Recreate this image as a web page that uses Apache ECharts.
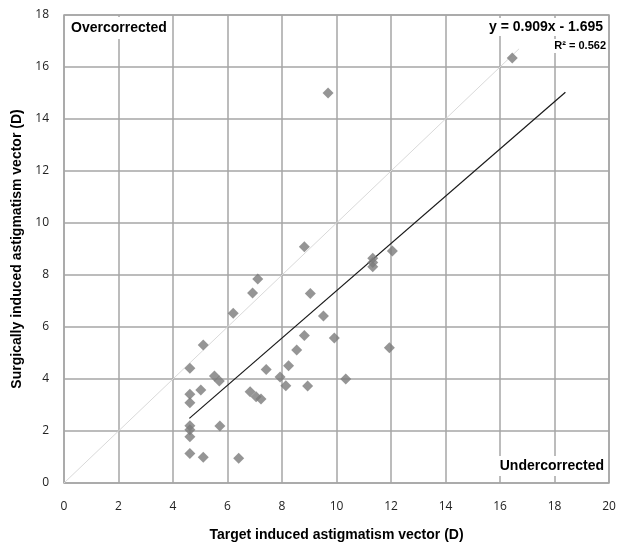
<!DOCTYPE html>
<html>
<head>
<meta charset="utf-8">
<script src="https://cdn.jsdelivr.net/npm/echarts@6/dist/echarts.min.js"></script>
<style>html,body{margin:0;padding:0;background:#fff}#c{width:619px;height:543px}</style>
</head>
<body>
<div id="c"></div>
<script>
// Target induced astigmatism vector (D)
const targetX = [6.21,5.11,4.62,5.52,5.70,5.02,4.62,4.62,6.83,7.05,7.23,7.42,7.93,8.14,8.24,8.54,8.82,9.52,9.92,8.94,10.34,11.94,4.62,4.62,4.62,5.72,4.62,5.11,6.41,8.82,7.11,6.92,9.04,11.33,11.33,11.33,12.05,9.69,16.45];
// Surgically induced astigmatism vector (D)
const surgicalY = [6.53,5.31,4.41,4.12,3.92,3.58,3.41,3.09,3.51,3.32,3.23,4.37,4.08,3.74,4.51,5.12,5.67,6.42,5.58,3.73,4.00,5.20,2.20,2.05,1.78,2.19,1.13,0.99,0.95,9.09,7.85,7.31,7.29,8.64,8.48,8.32,8.92,15.0,16.35];
const slope = 0.909, intercept = -1.695, rSquared = 0.562;
const trendRange = [4.6, 18.4];
const identityRange = [0, 16.7];
const xTicks = [0,2,4,6,8,10,12,14,16,18,20];
const yTicks = [0,2,4,6,8,10,12,14,16,18];

const pts = targetX.map((x,i)=>[x, surgicalY[i]]);
const trend = trendRange.map(x=>[x, slope*x+intercept]);
const ident = identityRange.map(x=>[x,x]);
const font = 'Liberation Sans, Arial, sans-serif';
const tickFont = 'Open Sans, DejaVu Sans, sans-serif';

const chart = echarts.init(document.getElementById('c'));
chart.setOption({
  animation:false,
  backgroundColor:'#fff',
  grid:{left:64,right:10,top:15,bottom:60,show:true,borderColor:'#a6a6a6',borderWidth:1.5,
        containLabel:false,outerBoundsMode:'none'},
  title:[
    {text:'Overcorrected',left:66,top:17,padding:[4,5],backgroundColor:'#fff',
     textStyle:{fontFamily:font,fontSize:14,fontWeight:'bold',color:'#000'}},
    {text:'Undercorrected',right:11,top:456,padding:[3,4],backgroundColor:'#fff',
     textStyle:{fontFamily:font,fontSize:14,fontWeight:'bold',color:'#000'}},
    {text:'y = '+slope.toFixed(3)+'x - '+Math.abs(intercept).toFixed(3),right:14,top:18,padding:[2,2,2,8],backgroundColor:'#fff',
     textStyle:{fontFamily:font,fontSize:14,fontWeight:'bold',color:'#000'}},
    {text:'R² = '+rSquared.toFixed(3),right:11,top:39,padding:[1,2,2,4],backgroundColor:'#fff',
     textStyle:{fontFamily:font,fontSize:11,fontWeight:'bold',color:'#000'}}
  ],
  xAxis:{type:'value',min:xTicks[0],max:xTicks[xTicks.length-1],interval:2,
    name:'Target induced astigmatism vector (D)',nameLocation:'middle',nameGap:45,
    nameTextStyle:{fontFamily:font,fontSize:14,fontWeight:'bold',color:'#000'},
    axisLine:{show:false},axisTick:{show:false},
    axisLabel:{fontFamily:tickFont,fontSize:12,color:'#222',margin:18},
    splitLine:{lineStyle:{color:'#a6a6a6',width:1.5}}},
  yAxis:{type:'value',min:yTicks[0],max:yTicks[yTicks.length-1],interval:2,
    name:'Surgically induced astigmatism vector (D)',nameLocation:'middle',nameGap:40,
    nameTextStyle:{fontFamily:font,fontSize:14,fontWeight:'bold',color:'#000'},
    axisLine:{show:false},axisTick:{show:false},
    axisLabel:{fontFamily:tickFont,fontSize:12,color:'#222',margin:15},
    splitLine:{lineStyle:{color:'#a6a6a6',width:1.5}}},
  series:[
    {type:'line',data:ident,symbol:'none',lineStyle:{color:'#d9d9d9',width:1},z:2},
    {type:'line',data:trend,symbol:'none',lineStyle:{color:'#1a1a1a',width:1.2},z:3},
    {type:'scatter',data:pts,symbol:'diamond',symbolSize:11,itemStyle:{color:'#7a7a7a'},z:4}
  ]
});
</script>
</body>
</html>
